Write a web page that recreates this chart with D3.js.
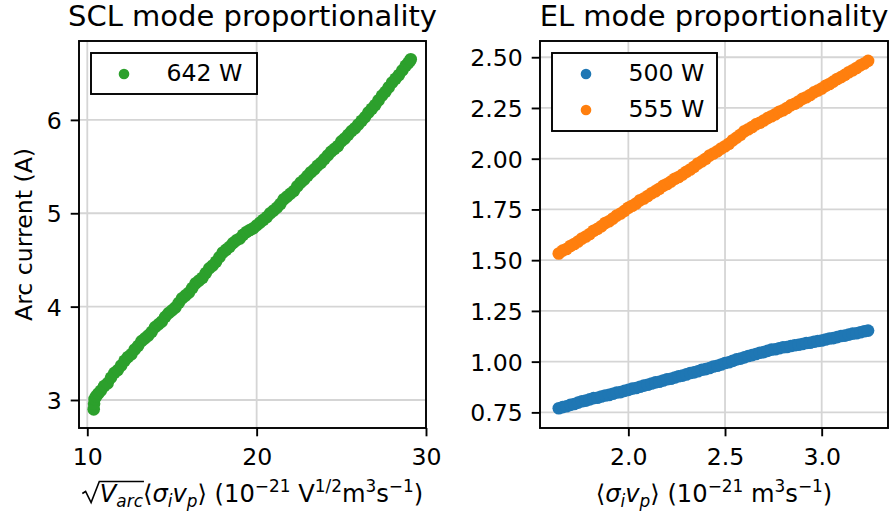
<!DOCTYPE html>
<html>
<head>
<meta charset="utf-8">
<script src="https://cdn.jsdelivr.net/npm/d3@7"></script>
<style>
  html, body { margin: 0; padding: 0; background: #fff; }
  svg { display: block; }
</style>
</head>
<body>
<svg id="fig" width="889" height="520"></svg>
<script>
// ---- SCL mode: sqrt(V_arc)<sigma_i v_p> vs arc current, 642 W ----
const sclX = [10.38,10.40,10.43,10.52,10.65,10.80,11.00,11.20,11.40,11.60,11.80,12.00,12.20,12.40,12.60,12.80,13.00,13.20,13.40,13.60,13.80,14.00,14.20,14.40,14.60,14.80,15.00,15.20,15.40,15.60,15.80,16.00,16.20,16.40,16.60,16.80,17.00,17.20,17.40,17.60,17.80,18.00,18.20,18.40,18.60,18.80,19.00,19.20,19.40,19.60,19.80,20.00,20.20,20.40,20.60,20.80,21.00,21.20,21.40,21.60,21.80,22.00,22.20,22.40,22.60,22.80,23.00,23.20,23.40,23.60,23.80,24.00,24.20,24.40,24.60,24.80,25.00,25.20,25.40,25.60,25.80,26.00,26.20,26.40,26.60,26.80,27.00,27.20,27.40,27.60,27.80,28.00,28.20,28.40,28.60,28.80,28.95,29.05,29.10];
const sclY = [2.90,2.96,3.01,3.04,3.07,3.10,3.15,3.18,3.24,3.29,
              3.32,3.37,3.42,3.46,3.49,3.54,3.58,3.63,3.66,3.69,
              3.73,3.78,3.81,3.84,3.89,3.93,3.96,3.99,4.04,4.09,
              4.12,4.15,4.20,4.25,4.28,4.31,4.36,4.41,4.44,4.48,
              4.53,4.58,4.61,4.64,4.68,4.71,4.73,4.77,4.80,4.82,
              4.84,4.87,4.90,4.93,4.96,5.00,5.03,5.06,5.10,5.15,
              5.18,5.21,5.24,5.29,5.33,5.36,5.40,5.44,5.47,5.51,
              5.54,5.58,5.62,5.66,5.69,5.72,5.77,5.80,5.84,5.88,
              5.91,5.95,5.99,6.03,6.08,6.12,6.16,6.21,6.26,6.30,
              6.35,6.40,6.44,6.48,6.53,6.58,6.61,6.63,6.65];

// ---- EL mode: <sigma_i v_p> vs arc current, 500 W and 555 W ----
const elX = [1.64,1.66,1.68,1.70,1.72,1.74,1.76,1.78,1.80,1.82,
             1.84,1.86,1.88,1.90,1.92,1.94,1.96,1.98,2.00,2.02,
             2.04,2.06,2.08,2.10,2.12,2.14,2.16,2.18,2.20,2.22,
             2.24,2.26,2.28,2.30,2.32,2.34,2.36,2.38,2.40,2.42,
             2.44,2.46,2.48,2.50,2.52,2.54,2.56,2.58,2.60,2.62,
             2.64,2.66,2.68,2.70,2.72,2.74,2.76,2.78,2.80,2.82,
             2.84,2.86,2.88,2.90,2.92,2.94,2.96,2.98,3.00,3.02,
             3.04,3.06,3.08,3.10,3.12,3.14,3.16,3.18,3.20,3.22,3.24];
const el500 = [0.770,0.776,0.780,0.787,0.791,0.798,0.805,0.808,0.814,0.820,
               0.822,0.828,0.833,0.836,0.842,0.848,0.850,0.856,0.861,0.867,
               0.870,0.876,0.882,0.886,0.892,0.898,0.901,0.907,0.913,0.916,
               0.922,0.928,0.931,0.937,0.944,0.947,0.953,0.960,0.963,0.969,
               0.976,0.980,0.986,0.993,0.997,1.004,1.011,1.015,1.021,1.028,
               1.032,1.038,1.044,1.047,1.053,1.059,1.061,1.066,1.071,1.072,
               1.077,1.081,1.083,1.087,1.092,1.093,1.098,1.102,1.104,1.109,
               1.114,1.116,1.121,1.126,1.128,1.133,1.138,1.140,1.145,1.150,1.153];
const el555 = [1.533,1.547,1.555,1.570,1.580,1.592,1.607,1.617,1.629,1.645,
               1.654,1.667,1.683,1.692,1.705,1.720,1.730,1.743,1.758,1.768,
               1.779,1.795,1.804,1.816,1.830,1.840,1.852,1.866,1.875,1.887,
               1.901,1.910,1.922,1.936,1.947,1.960,1.976,1.987,2.000,2.016,
               2.026,2.037,2.050,2.061,2.074,2.091,2.104,2.118,2.135,2.145,
               2.156,2.169,2.177,2.188,2.200,2.209,2.219,2.231,2.239,2.250,
               2.263,2.271,2.282,2.295,2.303,2.314,2.327,2.336,2.346,2.359,
               2.368,2.380,2.393,2.402,2.413,2.426,2.436,2.447,2.460,2.469,2.482];

// ---- tick values ----
const sclTicksX = [10, 20, 30];
const sclTicksY = [3, 4, 5, 6];
const elTicksX = [2.0, 2.5, 3.0];
const elTicksY = [0.75, 1.00, 1.25, 1.50, 1.75, 2.00, 2.25, 2.50];

// ---- styling ----
const FONT = '"DejaVu Sans", sans-serif';
const FS = 23.6, FS_LABEL = 24.2, FS_SM = 16.9, FS_TITLE = 29;
const GRID = "#d5d5d5";
const LW = 1.9;
const R_PT = 6.3;   // plotted markers
const R_LEG = 5.3;  // legend handles

const svg = d3.select("#fig");
svg.append("rect").attr("width", 889).attr("height", 520).attr("fill", "#fff");

function drawPanel(p) {
  const x = d3.scaleLinear().domain(p.xDom).range([p.x0, p.x1]);
  const y = d3.scaleLinear().domain(p.yDom).range([p.y1, p.y0]);
  const g = svg.append("g");

  // grid
  g.append("g").selectAll("line").data(p.xt).join("line")
    .attr("x1", d => x(d)).attr("x2", d => x(d))
    .attr("y1", p.y0).attr("y2", p.y1)
    .attr("stroke", GRID).attr("stroke-width", 1.8);
  g.append("g").selectAll("line").data(p.yt).join("line")
    .attr("y1", d => y(d)).attr("y2", d => y(d))
    .attr("x1", p.x0).attr("x2", p.x1)
    .attr("stroke", GRID).attr("stroke-width", 1.8);

  // scatter series
  p.series.forEach(s => {
    g.append("g").selectAll("circle").data(d3.zip(s.x, s.y)).join("circle")
      .attr("cx", d => x(d[0])).attr("cy", d => y(d[1])).attr("r", R_PT)
      .attr("fill", s.color);
  });

  // spines
  g.append("rect").attr("x", p.x0).attr("y", p.y0)
    .attr("width", p.x1 - p.x0).attr("height", p.y1 - p.y0)
    .attr("fill", "none").attr("stroke", "#000").attr("stroke-width", LW);

  // axes
  const ax = g.append("g").attr("transform", `translate(0,${p.y1})`)
    .call(d3.axisBottom(x).tickValues(p.xt).tickFormat(p.xf).tickSize(8.3));
  const ay = g.append("g").attr("transform", `translate(${p.x0},0)`)
    .call(d3.axisLeft(y).tickValues(p.yt).tickFormat(p.yf).tickSize(8.3));
  [ax, ay].forEach(a => {
    a.select(".domain").remove();
    a.attr("font-family", FONT).attr("font-size", FS);
    a.selectAll("line").attr("stroke", "#000").attr("stroke-width", LW);
    a.selectAll("text").attr("fill", "#000");
  });
  ax.selectAll("text").attr("y", 37).attr("dy", null);
  ay.selectAll("text").attr("x", -17.3).attr("dy", "0.36em");

  // title
  svg.append("text").attr("x", (p.x0 + p.x1) / 2).attr("y", 26)
    .attr("text-anchor", "middle").attr("font-family", FONT)
    .attr("font-size", FS_TITLE).attr("fill", "#000").text(p.title);

  // legend
  const lg = svg.append("g");
  lg.append("rect").attr("x", p.leg.x).attr("y", p.leg.y)
    .attr("width", p.leg.w).attr("height", p.leg.h)
    .attr("fill", "#fff").attr("stroke", "#000").attr("stroke-width", LW);
  p.series.forEach((s, i) => {
    const cy = p.leg.y + 21 + i * 36;
    lg.append("circle").attr("cx", p.leg.mx).attr("cy", cy).attr("r", R_LEG).attr("fill", s.color);
    lg.append("text").attr("x", p.leg.tx).attr("y", cy + 6.8)
      .attr("font-family", FONT).attr("font-size", FS).attr("fill", "#000").text(s.label);
  });
  return { x, y };
}

drawPanel({
  x0: 79, x1: 426, y0: 41, y1: 428,
  xDom: [9.51, 30.0], yDom: [2.70, 6.845],
  xt: sclTicksX, yt: sclTicksY,
  xf: d3.format("d"), yf: d3.format("d"),
  title: "SCL mode proportionality",
  series: [{ x: sclX, y: sclY, color: "#2ca02c", label: "642 W" }],
  leg: { x: 91, y: 53, w: 166, h: 41, mx: 124, tx: 166.5 }
});

drawPanel({
  x0: 540, x1: 888, y0: 41, y1: 428,
  xDom: [1.543, 3.343], yDom: [0.673, 2.580],
  xt: elTicksX, yt: elTicksY,
  xf: d3.format(".1f"), yf: d3.format(".2f"),
  title: "EL mode proportionality",
  series: [
    { x: elX, y: el500, color: "#1f77b4", label: "500 W" },
    { x: elX, y: el555, color: "#ff7f0e", label: "555 W" }
  ],
  leg: { x: 552, y: 53, w: 165, h: 78, mx: 586, tx: 628.5 }
});

// y axis label
svg.append("text").attr("transform", "translate(32,234.5) rotate(-90)")
  .attr("text-anchor", "middle").attr("font-family", FONT)
  .attr("font-size", FS).attr("fill", "#000").text("Arc current (A)");

// math-style axis labels built from tspans: [text, italic?, "sub"|"sup"|null]
function mathText(parent, segs) {
  const t = parent.append("text").attr("font-family", FONT)
    .attr("font-size", FS_LABEL).attr("fill", "#000").attr("x", 0).attr("y", 0);
  let shift = 0;
  segs.forEach(([str, it, pos]) => {
    const target = pos === "sub" ? 5.5 : pos === "sup" ? -9.2 : 0;
    const ts = t.append("tspan").attr("dy", target - shift).text(str);
    shift = target;
    if (it) ts.attr("font-style", "italic");
    if (pos) ts.attr("font-size", FS_SM);
  });
  return t;
}

const labelBase = 501.5;

// left x label: sqrt(V_arc)<sigma_i v_p> (10^-21 V^1/2 m^3 s^-1)
(function () {
  const radW = 18;
  const g = svg.append("g");
  const t = mathText(g, [
    ["V", true, null], ["arc", true, "sub"],
    ["\u27E8", false, null], ["\u03C3", true, null], ["i", true, "sub"],
    ["v", true, null], ["p", true, "sub"], ["\u27E9 (10", false, null],
    ["\u221221", false, "sup"], [" V", false, null], ["1/2", false, "sup"],
    ["m", false, null], ["3", false, "sup"], ["s", false, null],
    ["\u22121", false, "sup"], [")", false, null]
  ]);
  t.attr("x", radW);
  const node = t.node();
  const endArc = node.getEndPositionOfChar(3).x;
  const total = radW + node.getComputedTextLength();
  const yb = 0;
  g.append("path")
    .attr("d", `M0.5,${yb - 8} L3.8,${yb - 10} L9.3,${yb + 1} L${radW - 0.5},${yb - 20} L${endArc + 1},${yb - 20}`)
    .attr("fill", "none").attr("stroke", "#000").attr("stroke-width", 1.6)
    .attr("stroke-linejoin", "miter");
  g.attr("transform", `translate(${(79 + 426) / 2 - total / 2},${labelBase})`);
})();

// right x label: <sigma_i v_p> (10^-21 m^3 s^-1)
(function () {
  const g = svg.append("g");
  const t = mathText(g, [
    ["\u27E8", false, null], ["\u03C3", true, null], ["i", true, "sub"],
    ["v", true, null], ["p", true, "sub"], ["\u27E9 (10", false, null],
    ["\u221221", false, "sup"], [" m", false, null], ["3", false, "sup"],
    ["s", false, null], ["\u22121", false, "sup"], [")", false, null]
  ]);
  const total = t.node().getComputedTextLength();
  g.attr("transform", `translate(${(540 + 888) / 2 - total / 2},${labelBase})`);
})();
</script>
</body>
</html>
